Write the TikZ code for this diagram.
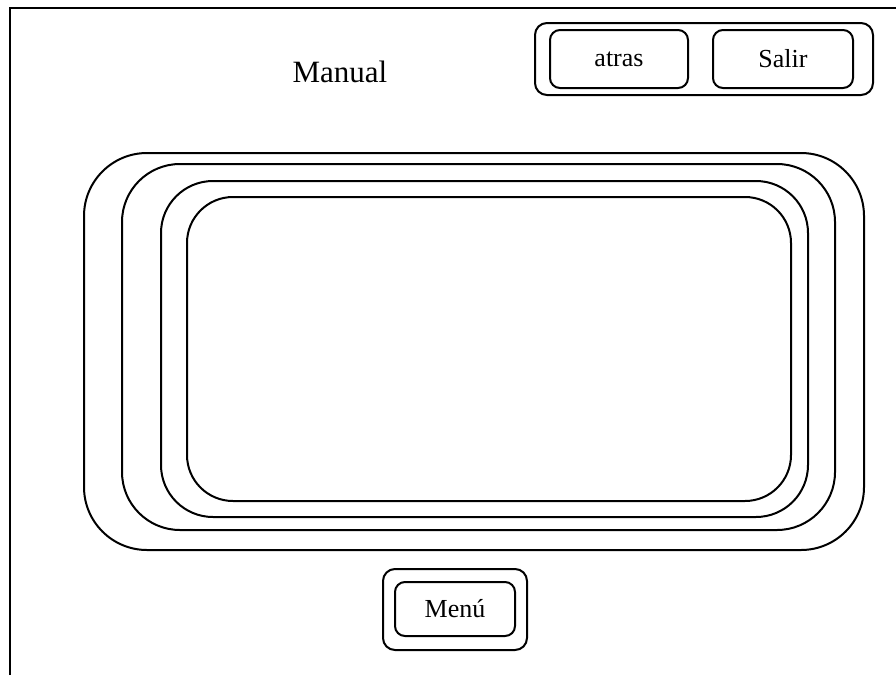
\documentclass[tikz,border=0pt]{standalone}
\usepackage{fontspec}
\setmainfont{Liberation Serif}
\begin{document}
\begin{tikzpicture}[x=1pt,y=-1pt,
  box/.style={draw, line width=2pt, inner sep=0pt},
  lbl/.style={font=\fontsize{26}{30}\selectfont, inner sep=0pt}]
\useasboundingbox (0,0) rectangle (896,675);
\fill[white] (0,0) rectangle (896,675);
\coordinate (ftl) at (10,8);
\coordinate (fbl) at (10,675);
\coordinate (ftr) at (896,8);
\draw[line width=2.6pt] (fbl) -- (ftl) -- (ftr);
\node[lbl, font=\fontsize{31}{36}\selectfont] (title) at (340,72) {Manual};
% top button group
\node[box, rounded corners=12pt, minimum width=338pt, minimum height=72pt] (topgrp) at (704,59) {};
\node[box, rounded corners=10pt, minimum width=138pt, minimum height=58pt] (atras) at (619,59) {};
\node[lbl] (atrastxt) at (619,59.5) {atras};
\node[box, rounded corners=10pt, minimum width=140pt, minimum height=58pt] (salir) at (783,59) {};
\node[lbl] (salirtxt) at (salir) {Salir};
% central nested panels
\node[box, rounded corners=63pt, minimum width=780pt, minimum height=397pt] (r1) at (474,351.5) {};
\node[box, rounded corners=58pt, minimum width=713pt, minimum height=366pt] (r2) at (478.5,347) {};
\node[box, rounded corners=52pt, minimum width=647pt, minimum height=336pt] (r3) at (484.5,349) {};
\node[box, rounded corners=46pt, minimum width=604pt, minimum height=304pt] (r4) at (489,349) {};
% menu button
\node[box, rounded corners=12pt, minimum width=144pt, minimum height=81pt] (menuout) at (455,609.5) {};
\node[box, rounded corners=10pt, minimum width=120pt, minimum height=54pt] (menuin) at (455,609) {};
\node[lbl] (menutxt) at (menuin) {Menú};
\end{tikzpicture}
\end{document}
